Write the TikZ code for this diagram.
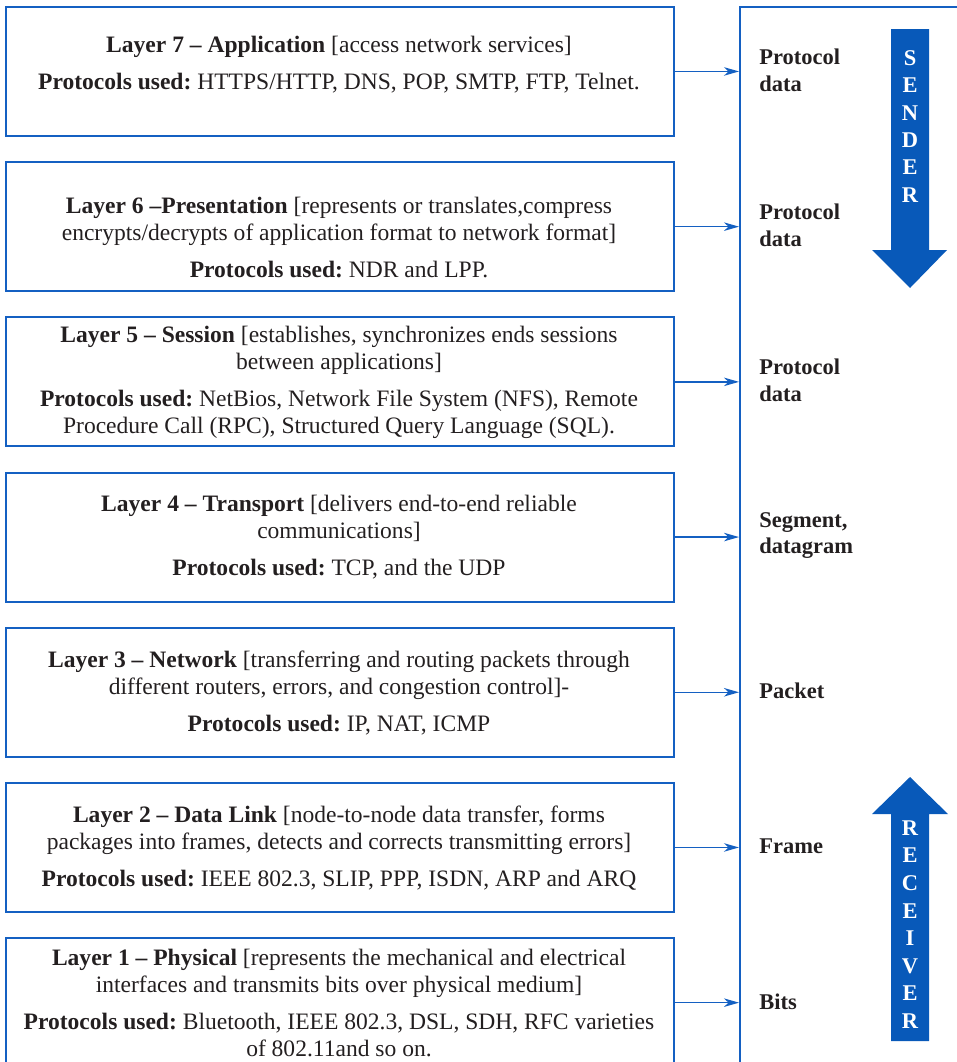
\documentclass[tikz,border=0pt]{standalone}
\usepackage{fontspec}
\setmainfont{Liberation Serif}
\usetikzlibrary{arrows.meta}
\definecolor{osiblue}{RGB}{20,96,194}
\definecolor{arrowblue}{RGB}{8,89,185}
\definecolor{ink}{RGB}{35,31,32}
\begin{document}
\frenchspacing
\begin{tikzpicture}[x=0.02cm,y=-0.02cm,
  layerbox/.style={draw=osiblue, line width=1.1pt, rectangle, anchor=north west,
    minimum width=13.36cm, minimum height=2.58cm, inner sep=0pt},
  layertext/.style={text width=13cm, align=flush center, text=ink, inner sep=0pt,
    font=\fontsize{13.4}{15.3}\selectfont\frenchspacing},
  unitlabel/.style={anchor=west, align=left, text=ink, inner sep=0pt,
    font=\fontsize{12.8}{15.3}\selectfont\bfseries},
  conn/.style={draw=osiblue, line width=0.8pt,
    -{Stealth[length=3mm,width=1.7mm,inset=0.9mm]}},
  bigarrow/.style={fill=arrowblue, draw=none},
  arrowletter/.style={text=white, inner sep=0pt,
    font=\fontsize{12.8}{15.3}\selectfont\bfseries}
]
\useasboundingbox (0,0) rectangle (957,1062);
\clip (0,0) rectangle (957,1062);

% stack of data units on the right
\node[draw=osiblue, line width=1.1pt, rectangle, anchor=north west, inner sep=0pt,
  minimum width=4.8cm, minimum height=21.6cm] (stack) at (739,6) {};

% layer boxes
\node[layerbox] (b7) at (5,6) {};
\node[layerbox] (b6) at (5,161.2) {};
\node[layerbox] (b5) at (5,316.4) {};
\node[layerbox] (b4) at (5,471.6) {};
\node[layerbox] (b3) at (5,626.8) {};
\node[layerbox] (b2) at (5,782) {};
\node[layerbox] (b1) at (5,937.2) {};

% layer descriptions
\node[layertext] (t7) at (339,65) {\textbf{Layer 7 – Application} [access network services]\\[5.7pt]
  \textbf{Protocols used:} HTTPS/HTTP, DNS, POP, SMTP, FTP, Telnet.};
\node[layertext] (t6) at (339,237.5) {\textbf{Layer 6 –Presentation} [represents or translates,compress\\
  encrypts/decrypts of application format to network format]\\[5.7pt]
  \textbf{Protocols used:} NDR and LPP.};
\node[layertext] (t5) at (339,382.5) {\textbf{Layer 5 – Session} [establishes, synchronizes ends sessions\\
  between applications]\\[5.7pt]
  \textbf{Protocols used:} NetBios, Network File System (NFS), Remote\\
  Procedure Call (RPC), Structured Query Language (SQL).};
\node[layertext] (t4) at (339,537.5) {\textbf{Layer 4 – Transport} [delivers end-to-end reliable\\
  communications]\\[5.7pt]
  \textbf{Protocols used:} TCP, and the UDP};
\node[layertext] (t3) at (339,693) {\textbf{Layer 3 – Network} [transferring and routing packets through\\
  different routers, errors, and congestion control]-\\[5.7pt]
  \textbf{Protocols used:} IP, NAT, ICMP};
\node[layertext] (t2) at (339,848) {\textbf{Layer 2 – Data Link} [node-to-node data transfer, forms\\
  packages into frames, detects and corrects transmitting errors]\\[5.7pt]
  \textbf{Protocols used:} IEEE 802.3, SLIP, PPP, ISDN, ARP and ARQ};
\node[layertext] (t1) at (339,1003) {\textbf{Layer 1 – Physical} [represents the mechanical and electrical\\
  interfaces and transmits bits over physical medium]\\[5.7pt]
  \textbf{Protocols used:} Bluetooth, IEEE 802.3, DSL, SDH, RFC varieties\\
  of 802.11and so on.};

% data unit labels
\node[unitlabel] (u7) at (759,70.5) {Protocol\\data};
\node[unitlabel] (u6) at (759,225.5) {Protocol\\data};
\node[unitlabel] (u5) at (759,380.5) {Protocol\\data};
\node[unitlabel] (u4) at (759,535.5) {Segment,\\datagram};
\node[unitlabel] (u3) at (759,691) {Packet};
\node[unitlabel] (u2) at (759,846.5) {Frame};
\node[unitlabel] (u1) at (759,1002) {Bits};

% connectors from each layer to the stack
\foreach \i in {1,...,7} {
  \draw[conn] (b\i.east) -- (b\i.east -| stack.west);
}

% sender arrow (downwards)
\fill[bigarrow] (891,29) -- (929,29) -- (929,250) -- (947,250) -- (910,288)
  -- (872,250) -- (891,250) -- cycle;
\foreach \c [count=\k from 0] in {S,E,N,D,E,R} {
  \node[arrowletter] (snd\k) at (910,{58+27.4*\k}) {\c};
}

% receiver arrow (upwards)
\fill[bigarrow] (910,777) -- (948,814) -- (929,814) -- (929,1041) -- (891,1041)
  -- (891,814) -- (872,814) -- cycle;
\foreach \c [count=\k from 0] in {R,E,C,E,I,V,E,R} {
  \node[arrowletter] (rcv\k) at (910,{828+27.6*\k}) {\c};
}
\end{tikzpicture}
\end{document}
